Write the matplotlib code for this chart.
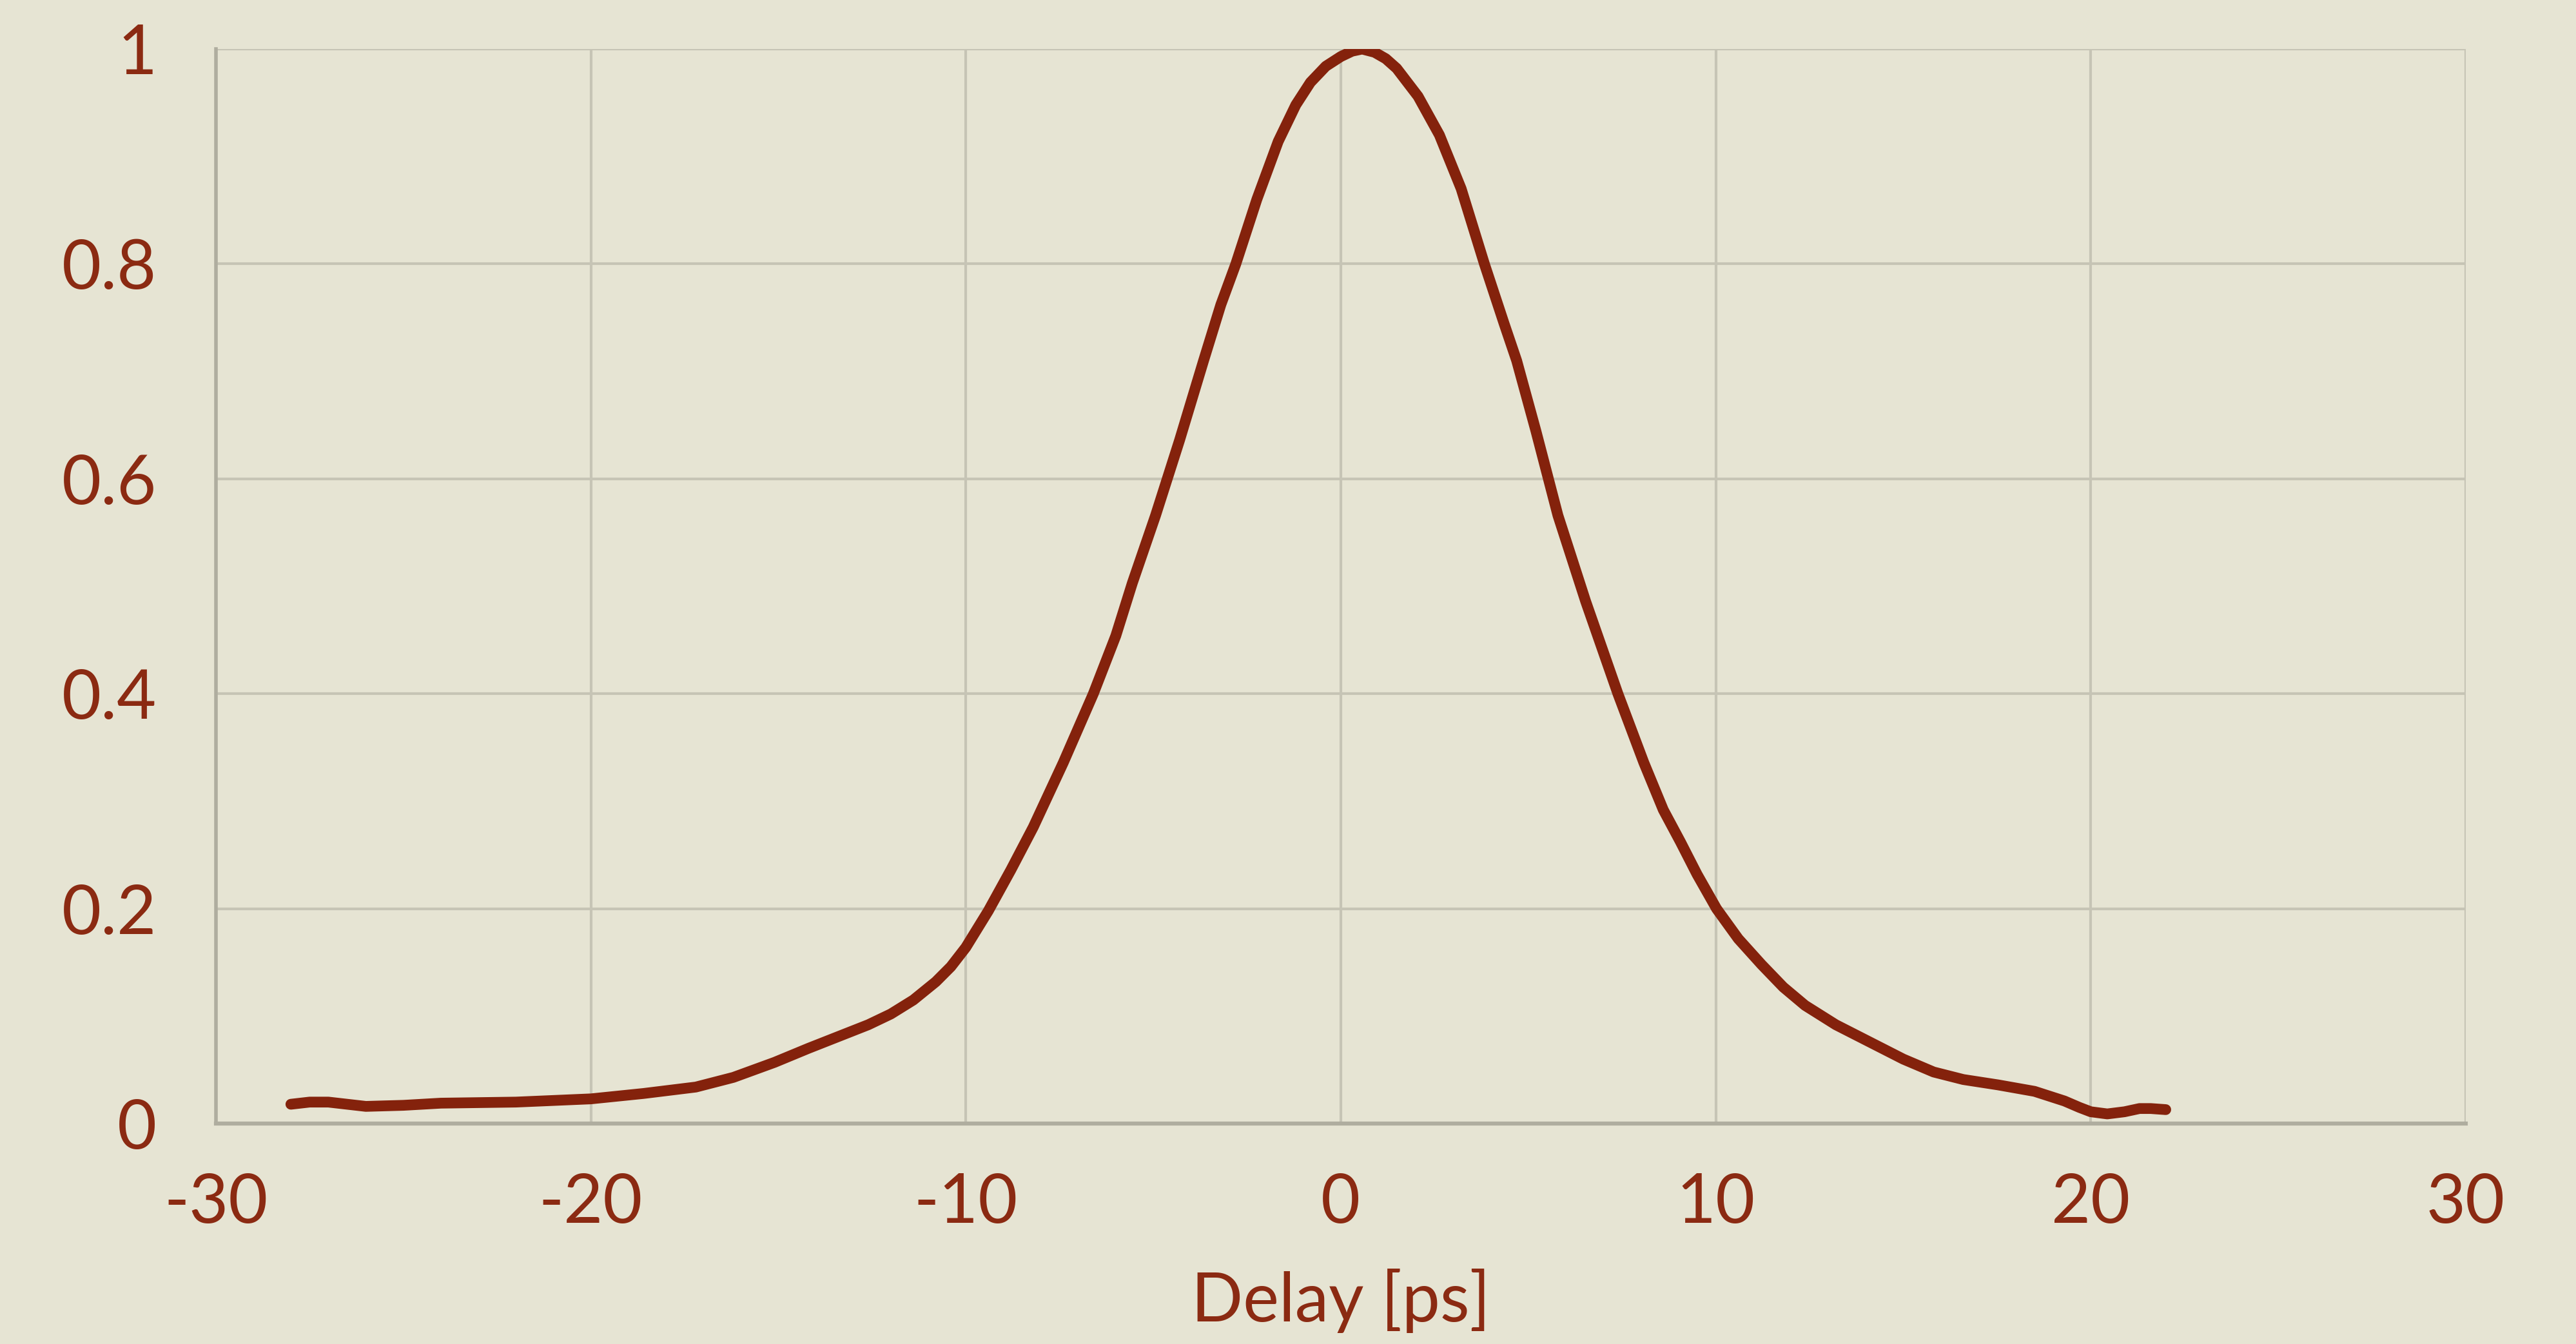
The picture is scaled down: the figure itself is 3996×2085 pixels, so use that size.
import matplotlib.pyplot as plt

BG = "#E6E4D3"
TEXT = "#8B2A12"
LINE = "#84220C"
GRID = "#C6C4B5"
SPINE = "#AFAD9F"

# delay [ps] and normalised signal
delay = [
    -28.0, -27.5, -27.0, -26.5, -26.0, -25.0, -24.0, -22.0, -20.0, -18.6,
    -17.2, -16.2, -15.1, -14.2, -13.4, -12.6, -12.0, -11.4, -10.8, -10.4,
    -10.0, -9.4, -8.8, -8.2, -7.4, -6.6, -6.0, -5.56, -4.94, -4.3,
    -3.66, -3.2, -2.8, -2.24, -1.67, -1.2, -0.81, -0.4, 0.0, 0.3,
    0.57, 0.9, 1.2, 1.49, 2.06, 2.63, 3.21, 3.83, 4.35, 4.69,
    5.2, 5.79, 6.53, 7.39, 8.08, 8.6, 9.06, 9.5, 10.02, 10.6,
    11.22, 11.8, 12.38, 13.2, 14.1, 15.0, 15.81, 16.6, 17.53, 18.5,
    19.3, 19.7, 20.0, 20.44, 20.9, 21.3, 21.6, 22.0,
]
signal = [
    0.018, 0.020, 0.020, 0.018, 0.016, 0.017, 0.019, 0.020, 0.023, 0.028,
    0.034, 0.043, 0.057, 0.070, 0.081, 0.092, 0.102, 0.115, 0.132, 0.146,
    0.164, 0.198, 0.236, 0.276, 0.336, 0.400, 0.454, 0.503, 0.566, 0.636,
    0.710, 0.762, 0.800, 0.860, 0.914, 0.948, 0.969, 0.984, 0.993, 0.998,
    1.000, 0.997, 0.991, 0.982, 0.956, 0.920, 0.870, 0.800, 0.745, 0.710,
    0.645, 0.566, 0.486, 0.400, 0.336, 0.292, 0.262, 0.232, 0.200, 0.172,
    0.148, 0.127, 0.110, 0.092, 0.076, 0.060, 0.048, 0.041, 0.036, 0.030,
    0.021, 0.015, 0.011, 0.009, 0.011, 0.014, 0.014, 0.013,
]

x_ticks = [-30, -20, -10, 0, 10, 20, 30]
y_ticks = [0, 0.2, 0.4, 0.6, 0.8, 1]
y_tick_labels = ["0", "0.2", "0.4", "0.6", "0.8", "1"]

plt.rcParams["font.family"] = ["Lato", "DejaVu Sans"]
plt.rcParams["axes.unicode_minus"] = False

fig = plt.figure(figsize=(39.96, 20.85), dpi=100, facecolor=BG)
ax = fig.add_axes([0.0838, 0.164, 0.8734, 0.7995])
ax.set_facecolor(BG)

ax.plot(delay, signal, color=LINE, linewidth=12, solid_capstyle="round",
        solid_joinstyle="round", zorder=3)

ax.set_xlim(-30, 30)
ax.set_ylim(0, 1)
ax.set_xticks(x_ticks)
ax.set_yticks(y_ticks)
ax.set_yticklabels(y_tick_labels)
ax.grid(True, color=GRID, linewidth=3, zorder=0)
ax.set_axisbelow(True)

ax.tick_params(length=0, labelsize=76, labelcolor=TEXT)
ax.tick_params(axis="x", pad=55)
ax.tick_params(axis="y", pad=66)

ax.spines["top"].set_visible(False)
ax.spines["right"].set_visible(False)
ax.spines["left"].set_color(SPINE)
ax.spines["bottom"].set_color(SPINE)
ax.spines["left"].set_linewidth(4)
ax.spines["bottom"].set_linewidth(4.5)

ax.set_xlabel("Delay [ps]", fontsize=76, color=TEXT, labelpad=38)

fig.savefig("out.png", dpi=100, facecolor=BG)
